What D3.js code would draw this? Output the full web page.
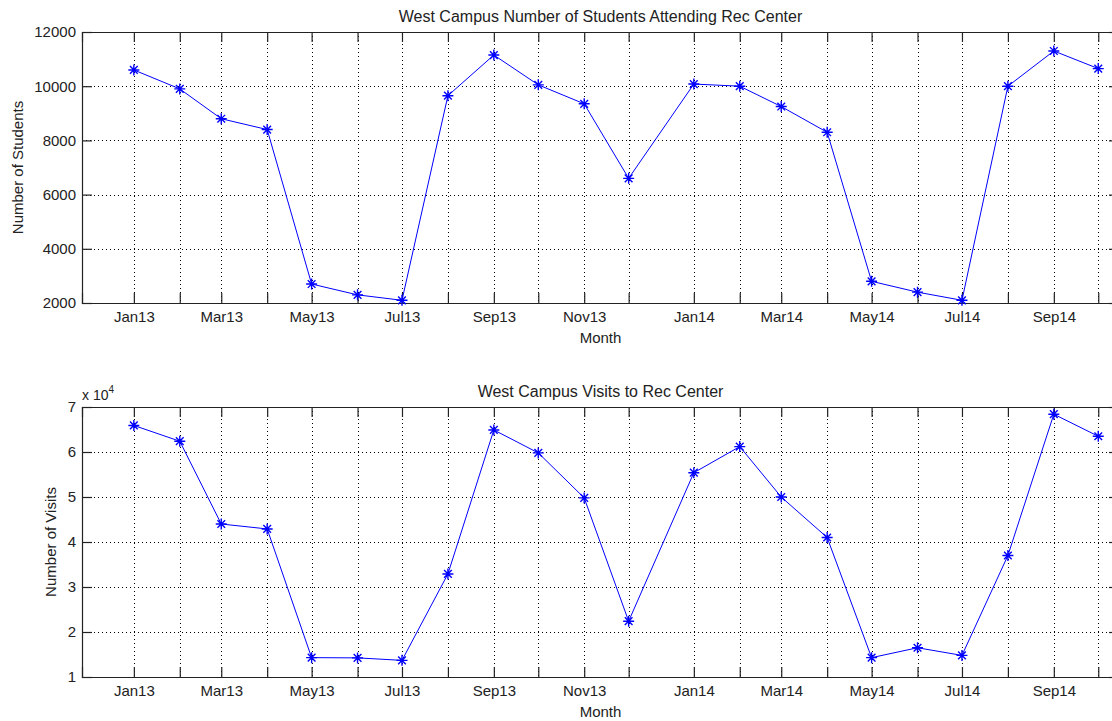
<!DOCTYPE html>
<html>
<head>
<meta charset="utf-8">
<script src="https://cdn.jsdelivr.net/npm/d3@7"></script>
<style>
  body { margin: 0; background: #fff; }
  text { font-family: 'Liberation Sans', Arial, sans-serif; fill: #222; }
</style>
</head>
<body>
<div id="chart"></div>
<script>
// months as stored in the source (2014 points landed on the 14th)
let monthDates = [
  '2013-01-01', '2013-02-01', '2013-03-01', '2013-04-01', '2013-05-01', '2013-06-01',
  '2013-07-01', '2013-08-01', '2013-09-01', '2013-10-01', '2013-11-01', '2013-12-01',
  '2014-01-14', '2014-02-14', '2014-03-14', '2014-04-14', '2014-05-14', '2014-06-14',
  '2014-07-14', '2014-08-14', '2014-09-14', '2014-10-14'
]
let monthLabels = [
  'Jan13', '', 'Mar13', '', 'May13', '', 'Jul13', '', 'Sep13', '', 'Nov13', '',
  'Jan14', '', 'Mar14', '', 'May14', '', 'Jul14', '', 'Sep14', ''
]
let students = [
  10600, 9900, 8800, 8400, 2700, 2300, 2100, 9650, 11150, 10050, 9350, 6600,
  10080, 10000, 9250, 8300, 2800, 2400, 2100, 10000, 11300, 10650
]
let visits = [
  65900, 62400, 44000, 42900, 14300, 14250, 13700, 32900, 64900, 59800, 49800, 22400,
  55400, 61200, 50000, 41000, 14300, 16500, 14800, 37000, 68400, 63500
]
let studentTicks = [2000, 4000, 6000, 8000, 10000, 12000]
let visitTicks = [10000, 20000, 30000, 40000, 50000, 60000, 70000]
let xLimits = ['2012-11-27', '2014-10-28']

let width = 1112
let height = 721
let tickLen = 10

let parse = d3.utcParse('%Y-%m-%d')
let dates = monthDates.map(parse)

let svg = d3.select('#chart')
  .append('svg')
  .attr('width', width)
  .attr('height', height)

svg.append('rect').attr('width', width).attr('height', height).attr('fill', '#fff')

let xScale = d3.scaleUtc()
  .domain(xLimits.map(parse))
  .range([82, 1119])

function drawPanel(opts) {
  let yScale = d3.scaleLinear()
    .domain(opts.domain)
    .range([opts.bottom, opts.top])

  let g = svg.append('g')
  let x0 = xScale.range()[0]
  let x1 = xScale.range()[1]

  // dotted grid
  g.selectAll('.vgrid')
    .data(dates)
    .enter()
    .append('line')
    .attr('x1', d => Math.round(xScale(d)) + 0.5)
    .attr('x2', d => Math.round(xScale(d)) + 0.5)
    .attr('y1', opts.top)
    .attr('y2', opts.bottom)
    .attr('stroke', '#000')
    .attr('stroke-dasharray', '1,3')

  g.selectAll('.hgrid')
    .data(opts.ticks)
    .enter()
    .append('line')
    .attr('x1', x0)
    .attr('x2', x1)
    .attr('y1', d => Math.round(yScale(d)) + 0.5)
    .attr('y2', d => Math.round(yScale(d)) + 0.5)
    .attr('stroke', '#000')
    .attr('stroke-dasharray', '1,3')

  // axes with inward ticks
  let xAxis = d3.axisBottom(xScale)
    .tickValues(dates)
    .tickSize(-tickLen)
    .tickPadding(8)
    .tickFormat((d, i) => monthLabels[i])

  let xAxisTop = d3.axisTop(xScale)
    .tickValues(dates)
    .tickSize(-tickLen)
    .tickFormat('')

  let yAxis = d3.axisLeft(yScale)
    .tickValues(opts.ticks)
    .tickSize(-tickLen)
    .tickPadding(6)
    .tickFormat(opts.format)

  let yAxisRight = d3.axisRight(yScale)
    .tickValues(opts.ticks)
    .tickSize(-tickLen)
    .tickFormat('')

  let axes = [
    g.append('g').attr('transform', `translate(0,${opts.bottom})`).call(xAxis),
    g.append('g').attr('transform', `translate(0,${opts.top})`).call(xAxisTop),
    g.append('g').attr('transform', `translate(${x0},0)`).call(yAxis),
    g.append('g').attr('transform', `translate(${x1},0)`).call(yAxisRight)
  ]
  axes.forEach(a => {
    a.select('.domain').attr('stroke', '#222').attr('stroke-width', 1.2)
    a.selectAll('.tick line').attr('stroke', '#222').attr('stroke-width', 1.2)
    a.selectAll('.tick text')
      .attr('font-size', 15)
      .attr('font-family', "'Liberation Sans', Arial, sans-serif")
      .attr('fill', '#222')
  })

  // line + asterisk markers
  let line = d3.line()
    .x((d, i) => xScale(dates[i]))
    .y(d => yScale(d))

  g.append('path')
    .datum(opts.values)
    .attr('d', line)
    .attr('fill', 'none')
    .attr('stroke', '#0000ff')
    .attr('stroke-width', 1)

  let r = 5.5
  let star = `M${-r},0L${r},0M0,${-r}L0,${r}M${-r * 0.7},${-r * 0.7}L${r * 0.7},${r * 0.7}M${-r * 0.7},${r * 0.7}L${r * 0.7},${-r * 0.7}`
  g.selectAll('.marker')
    .data(opts.values)
    .enter()
    .append('path')
    .attr('class', 'marker')
    .attr('d', star)
    .attr('transform', (d, i) => `translate(${xScale(dates[i])},${yScale(d)})`)
    .attr('stroke', '#0000ff')
    .attr('stroke-width', 1.4)
    .attr('fill', 'none')

  // titles
  svg.append('text')
    .text(opts.title)
    .attr('x', (x0 + x1) / 2)
    .attr('y', opts.top - 10)
    .attr('text-anchor', 'middle')
    .attr('font-size', 16)

  svg.append('text')
    .text('Month')
    .attr('x', (x0 + x1) / 2)
    .attr('y', opts.bottom + 40)
    .attr('text-anchor', 'middle')
    .attr('font-size', 15)

  svg.append('text')
    .text(opts.ylabel)
    .attr('transform', `translate(${opts.ylabelX},${(opts.top + opts.bottom) / 2}) rotate(-90)`)
    .attr('text-anchor', 'middle')
    .attr('font-size', 15)

  return yScale
}

drawPanel({
  top: 32,
  bottom: 303,
  domain: [2000, 12000],
  ticks: studentTicks,
  values: students,
  format: d => d,
  title: 'West Campus Number of Students Attending Rec Center',
  ylabel: 'Number of Students',
  ylabelX: 23
})

drawPanel({
  top: 407,
  bottom: 677,
  domain: [10000, 70000],
  ticks: visitTicks,
  values: visits,
  format: d => d / 10000,
  title: 'West Campus Visits to Rec Center',
  ylabel: 'Number of Visits',
  ylabelX: 56
})

// exponent note above the lower axis
let expo = svg.append('text')
  .attr('x', 82)
  .attr('y', 400)
  .attr('font-size', 14)
expo.append('tspan').text('x 10')
expo.append('tspan').text('4').attr('dy', -7).attr('font-size', 10)
</script>
</body>
</html>
